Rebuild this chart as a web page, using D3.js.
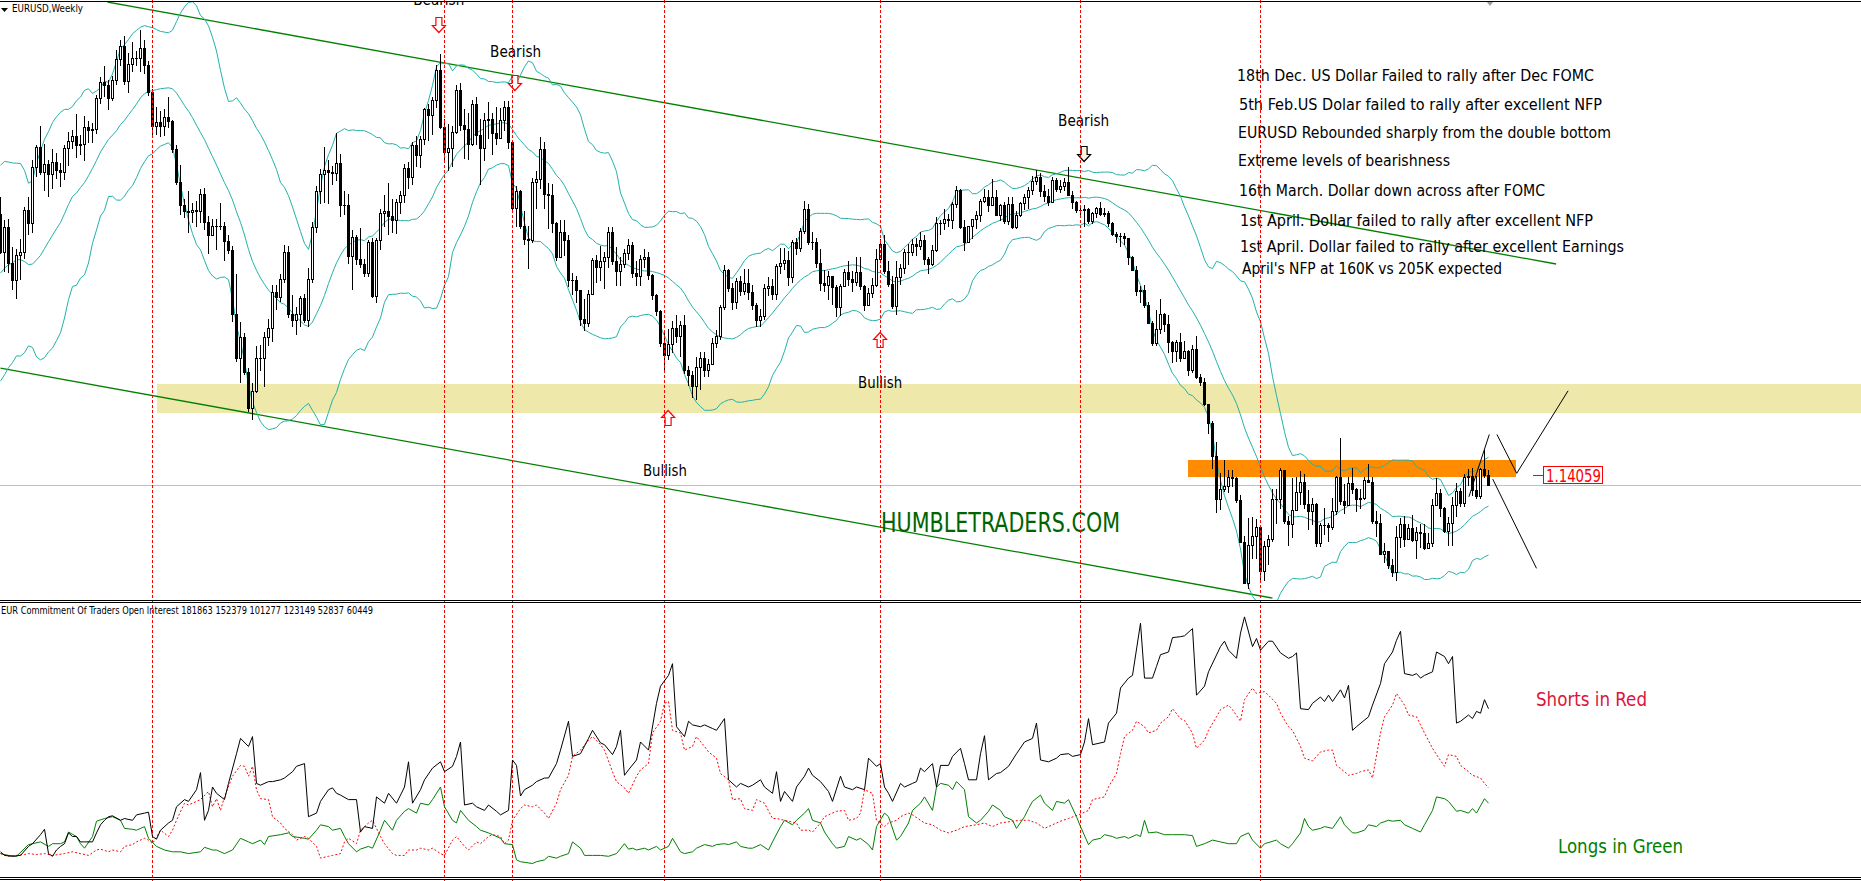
<!DOCTYPE html>
<html><head><meta charset="utf-8">
<script src="https://cdn.jsdelivr.net/npm/d3@7"></script>
<style>
html,body{margin:0;padding:0;background:#fff;overflow:hidden}
svg{display:block}
text{font-family:"DejaVu Sans Condensed","DejaVu Sans",sans-serif}
</style></head><body>
<svg id="chart" width="1861" height="881"></svg>
<script>
// ---------------- DATA ----------------
// EURUSD weekly bars, week 0 = week ending 27 Mar 2009, week 372 = current week (May 2016)
const firstOpen = 1.3595;
// closes of the 19 weeks before week 0 (only used to seed the 20-period Bollinger Bands)
const priorCloses = [1.2650,1.2620,1.2695,1.2710,1.3315,1.3925,1.4030,1.3920,1.3460,1.3200,
  1.2855,1.2800,1.2940,1.2870,1.2915,1.2670,1.2655,1.2915,1.3595];
const weeklyClose = [
1.3280,1.3485,1.3185,1.3040,1.3250,1.3280,1.3630,1.3520,1.3995,1.4165,
1.3955,1.4020,1.3930,1.4035,1.3965,1.3955,1.4155,1.4210,1.4255,1.4180,
1.4190,1.4330,1.4305,1.4310,1.4570,1.4710,1.4680,1.4575,1.4720,1.4900,
1.5010,1.4715,1.4860,1.4910,1.4905,1.4990,1.4850,1.4620,1.4340,1.4375,
1.4335,1.4410,1.4380,1.4140,1.3865,1.3675,1.3625,1.3615,1.3630,1.3625,
1.3770,1.3530,1.3420,1.3500,1.3500,1.3495,1.3375,1.3295,1.2755,1.2390,
1.2565,1.2270,1.1965,1.2110,1.2385,1.2385,1.2565,1.2640,1.2940,1.2900,
1.3055,1.3280,1.2755,1.2705,1.2760,1.2890,1.2710,1.3050,1.3490,1.3790,
1.3935,1.3970,1.3955,1.3940,1.4030,1.3675,1.3670,1.3245,1.3405,1.3220,
1.3180,1.3100,1.3365,1.2910,1.3380,1.3610,1.3620,1.3580,1.3545,1.3695,
1.3755,1.3985,1.3905,1.4180,1.4095,1.4230,1.4480,1.4430,1.4560,1.4810,
1.4330,1.4120,1.4150,1.4285,1.4640,1.4345,1.4310,1.4190,1.4525,1.4260,
1.4150,1.4385,1.4395,1.4280,1.4235,1.4390,1.4495,1.4205,1.3650,1.3795,
1.3500,1.3390,1.3380,1.3870,1.3895,1.4145,1.3770,1.3760,1.3520,1.3235,
1.3445,1.3380,1.3045,1.3045,1.2960,1.2720,1.2680,1.2930,1.3215,1.3155,
1.3200,1.3240,1.3450,1.3200,1.3120,1.3180,1.3270,1.3340,1.3100,1.3075,
1.3220,1.3235,1.3085,1.2915,1.2780,1.2515,1.2415,1.2505,1.2640,1.2570,
1.2665,1.2290,1.2245,1.2155,1.2315,1.2390,1.2290,1.2335,1.2515,1.2575,
1.2815,1.3125,1.2980,1.2860,1.3035,1.2955,1.3020,1.2940,1.2830,1.2710,
1.2740,1.2975,1.2990,1.2925,1.3165,1.3190,1.3215,1.3067,1.3364,1.3316,
1.3456,1.3641,1.3364,1.3363,1.3189,1.3020,1.3005,1.3077,1.2987,1.2819,
1.2993,1.3111,1.3052,1.3028,1.3113,1.2995,1.2837,1.2933,1.2999,1.3220,
1.3343,1.3121,1.3010,1.2828,1.3066,1.3144,1.3278,1.3280,1.3344,1.3331,
1.3381,1.3220,1.3176,1.3294,1.3524,1.3523,1.3555,1.3547,1.3683,1.3803,
1.3487,1.3363,1.3497,1.3555,1.3592,1.3706,1.3742,1.3675,1.3739,1.3590,
1.3670,1.3540,1.3680,1.3485,1.3590,1.3690,1.3740,1.3800,1.3875,1.3910,
1.3790,1.3750,1.3700,1.3885,1.3810,1.3830,1.3870,1.3760,1.3695,1.3630,
1.3635,1.3640,1.3540,1.3605,1.3645,1.3595,1.3605,1.3525,1.3430,1.3415,
1.3410,1.3400,1.3240,1.3130,1.2950,1.2960,1.2830,1.2685,1.2515,1.2630,
1.2760,1.2670,1.2525,1.2450,1.2525,1.2390,1.2450,1.2290,1.2465,1.2225,
1.2185,1.2000,1.1840,1.1565,1.1205,1.1290,1.1315,1.1390,1.1380,1.1195,
1.0845,1.0495,1.0820,1.0890,1.0970,1.0600,1.0810,1.0870,1.1200,1.1200,
1.1445,1.1015,1.0990,1.1115,1.1260,1.1350,1.1165,1.1105,1.1160,1.0830,
1.0985,1.0985,1.0970,1.1105,1.1385,1.1185,1.1150,1.1340,1.1290,1.1200,
1.1210,1.1360,1.1350,1.1015,1.1005,1.0740,1.0770,1.0650,1.0590,1.0885,
1.0990,1.0865,1.0960,1.0860,1.0925,1.0915,1.0795,1.0830,1.1155,1.1255,
1.1130,1.0935,1.1005,1.1155,1.1270,1.1170,1.1390,1.1400,1.1280,1.1225,
1.1455,1.1405,1.1320];
const weeklyHigh = [
1.3740,1.3550,1.3560,1.3320,1.3300,1.3390,1.3660,1.3740,1.4050,1.4175,
1.4340,1.4190,1.4050,1.4140,1.4110,1.4030,1.4180,1.4290,1.4300,1.4440,
1.4260,1.4420,1.4380,1.4360,1.4600,1.4750,1.4845,1.4720,1.4760,1.4980,
1.5060,1.5090,1.4950,1.5040,1.4970,1.5144,1.5060,1.4880,1.4650,1.4495,
1.4460,1.4480,1.4580,1.4390,1.4180,1.4010,1.3720,1.3790,1.3690,1.3710,
1.3810,1.3820,1.3580,1.3560,1.3560,1.3690,1.3530,1.3420,1.3330,1.3095,
1.2690,1.2600,1.2300,1.2180,1.2485,1.2500,1.2610,1.2720,1.3000,1.3000,
1.3095,1.3335,1.3330,1.2920,1.2820,1.2905,1.2930,1.3145,1.3530,1.3830,
1.3980,1.4160,1.4050,1.4000,1.4280,1.4100,1.3790,1.3770,1.3465,1.3420,
1.3480,1.3220,1.3380,1.3400,1.3400,1.3640,1.3760,1.3860,1.3720,1.3720,
1.3790,1.4015,1.4035,1.4200,1.4250,1.4250,1.4490,1.4520,1.4580,1.4850,
1.4940,1.4400,1.4350,1.4335,1.4680,1.4700,1.4480,1.4450,1.4560,1.4580,
1.4400,1.4450,1.4540,1.4450,1.4500,1.4490,1.4550,1.4550,1.4190,1.3830,
1.3800,1.3620,1.3500,1.3900,1.3960,1.4247,1.4200,1.3860,1.3850,1.3530,
1.3550,1.3550,1.3420,1.3100,1.3080,1.2960,1.2880,1.2960,1.3230,1.3250,
1.3330,1.3280,1.3486,1.3490,1.3320,1.3240,1.3300,1.3385,1.3360,1.3200,
1.3250,1.3300,1.3280,1.3090,1.2930,1.2790,1.2620,1.2630,1.2700,1.2747,
1.2700,1.2750,1.2320,1.2280,1.2400,1.2440,1.2440,1.2380,1.2560,1.2620,
1.2830,1.3170,1.3140,1.3020,1.3060,1.3080,1.3140,1.3140,1.3000,1.2850,
1.2800,1.3010,1.3070,1.3050,1.3180,1.3310,1.3310,1.3290,1.3380,1.3400,
1.3480,1.3711,1.3680,1.3450,1.3400,1.3300,1.3130,1.3120,1.3080,1.3000,
1.3010,1.3140,1.3200,1.3120,1.3240,1.3240,1.3000,1.2980,1.3060,1.3305,
1.3390,1.3420,1.3200,1.3080,1.3200,1.3180,1.3300,1.3345,1.3390,1.3400,
1.3450,1.3420,1.3240,1.3340,1.3570,1.3550,1.3640,1.3600,1.3700,1.3832,
1.3810,1.3550,1.3500,1.3560,1.3620,1.3720,1.3810,1.3800,1.3893,1.3800,
1.3680,1.3700,1.3740,1.3740,1.3620,1.3700,1.3770,1.3825,1.3915,1.3967,
1.3940,1.3840,1.3810,1.3905,1.3900,1.3880,1.3900,1.3993,1.3790,1.3710,
1.3670,1.3670,1.3650,1.3615,1.3660,1.3700,1.3650,1.3620,1.3530,1.3445,
1.3435,1.3440,1.3400,1.3245,1.3160,1.2990,1.3000,1.2860,1.2700,1.2790,
1.2887,1.2770,1.2750,1.2530,1.2540,1.2600,1.2530,1.2456,1.2500,1.2570,
1.2250,1.2220,1.1970,1.1860,1.1680,1.1420,1.1535,1.1445,1.1450,1.1390,
1.1240,1.0890,1.1043,1.1052,1.1035,1.0980,1.0850,1.0900,1.1290,1.1290,
1.1467,1.1450,1.1060,1.1380,1.1385,1.1435,1.1410,1.1280,1.1215,1.1170,
1.1000,1.1130,1.1000,1.1215,1.1395,1.1715,1.1330,1.1390,1.1460,1.1300,
1.1290,1.1390,1.1495,1.1390,1.1100,1.1075,1.0830,1.0770,1.0700,1.0980,
1.1045,1.1060,1.0990,1.1065,1.0970,1.0990,1.0990,1.0920,1.1200,1.1376,
1.1290,1.1140,1.1055,1.1220,1.1340,1.1295,1.1410,1.1455,1.1465,1.1400,
1.1460,1.1616,1.1445];
const weeklyLow = [
1.3270,1.3115,1.3110,1.2970,1.2890,1.3050,1.3230,1.3430,1.3450,1.3920,
1.3930,1.3800,1.3750,1.3820,1.3900,1.3830,1.3890,1.4010,1.4150,1.4080,
1.4100,1.4050,1.4200,1.4200,1.4280,1.4530,1.4590,1.4480,1.4560,1.4690,
1.4850,1.4690,1.4620,1.4800,1.4850,1.4800,1.4780,1.4600,1.4255,1.4270,
1.4255,1.4260,1.4330,1.4120,1.3850,1.3600,1.3570,1.3445,1.3530,1.3500,
1.3530,1.3470,1.3270,1.3420,1.3300,1.3470,1.3210,1.3270,1.2700,1.2360,
1.2185,1.2250,1.1940,1.1876,1.2100,1.2290,1.2150,1.2500,1.2530,1.2800,
1.2870,1.3030,1.2730,1.2660,1.2590,1.2660,1.2690,1.2660,1.3030,1.3450,
1.3690,1.3700,1.3690,1.3850,1.3880,1.3580,1.3600,1.3190,1.2970,1.3180,
1.3150,1.3080,1.3080,1.2900,1.2860,1.3300,1.3500,1.3430,1.3450,1.3440,
1.3610,1.3700,1.3820,1.3850,1.4000,1.3990,1.4190,1.4220,1.4270,1.4500,
1.4320,1.4060,1.3970,1.4000,1.4280,1.4300,1.4070,1.4060,1.4180,1.4190,
1.3850,1.4050,1.4240,1.4100,1.4190,1.4290,1.4300,1.4150,1.3620,1.3495,
1.3480,1.3350,1.3145,1.3360,1.3650,1.3820,1.3650,1.3480,1.3450,1.3210,
1.3260,1.3250,1.2990,1.2930,1.2860,1.2665,1.2624,1.2660,1.2950,1.3030,
1.3040,1.2975,1.3150,1.3180,1.3000,1.3000,1.3150,1.3220,1.3070,1.3000,
1.3000,1.3150,1.3050,1.2880,1.2750,1.2490,1.2288,1.2380,1.2440,1.2520,
1.2405,1.2260,1.2160,1.2060,1.2042,1.2130,1.2240,1.2240,1.2340,1.2480,
1.2550,1.2800,1.2950,1.2800,1.2810,1.2920,1.2930,1.2880,1.2800,1.2660,
1.2660,1.2720,1.2920,1.2880,1.2880,1.3100,1.3140,1.3000,1.3030,1.3260,
1.3290,1.3440,1.3350,1.3300,1.3150,1.2960,1.2955,1.2880,1.2840,1.2745,
1.2750,1.2990,1.3000,1.2950,1.3000,1.2970,1.2795,1.2830,1.2900,1.2990,
1.3200,1.3100,1.2990,1.2810,1.2755,1.3010,1.3100,1.3180,1.3250,1.3250,
1.3300,1.3180,1.3100,1.3170,1.3290,1.3430,1.3470,1.3500,1.3480,1.3660,
1.3480,1.3295,1.3360,1.3400,1.3480,1.3540,1.3700,1.3625,1.3670,1.3590,
1.3550,1.3520,1.3510,1.3480,1.3480,1.3580,1.3640,1.3650,1.3770,1.3850,
1.3750,1.3710,1.3670,1.3700,1.3790,1.3780,1.3800,1.3760,1.3650,1.3615,
1.3585,1.3500,1.3520,1.3525,1.3570,1.3590,1.3580,1.3500,1.3420,1.3366,
1.3333,1.3350,1.3180,1.3130,1.2920,1.2860,1.2815,1.2680,1.2500,1.2500,
1.2600,1.2615,1.2440,1.2358,1.2360,1.2360,1.2390,1.2245,1.2270,1.2220,
1.2165,1.1995,1.1755,1.1460,1.1098,1.1120,1.1270,1.1260,1.1315,1.1175,
1.0840,1.0495,1.0458,1.0710,1.0712,1.0520,1.0520,1.0660,1.0850,1.1000,
1.1130,1.1000,1.0818,1.0885,1.1110,1.1160,1.1130,1.0955,1.0990,1.0810,
1.0810,1.0910,1.0850,1.0950,1.1075,1.1165,1.1085,1.1150,1.1250,1.1105,
1.1130,1.1200,1.1350,1.1000,1.0895,1.0740,1.0675,1.0620,1.0560,1.0525,
1.0800,1.0805,1.0870,1.0850,1.0710,1.0800,1.0780,1.0800,1.0810,1.1155,
1.1060,1.0930,1.0820,1.0820,1.1060,1.1145,1.1145,1.1325,1.1235,1.1215,
1.1215,1.1390,1.1320];

// Commitment of Traders sub-window: [week, thousand contracts]
const cotTotal = [[0,28],[1,24],[3,23],[5,24],[7,34],[8,37],[10,47],[11,53],[12,26],[13,23],[14,30],[15,34],[16,37],[17,49],[18,45],[19,45],[20,39],[21,39],[23,39],[24,49],[25,58],[26,63],[27,67],[28,68],[30,63],[31,65],[33,63],[34,69],[36,71],[37,72],[38,45],[39,42],[40,52],[42,60],[43,63],[44,78],[46,86],[47,84],[49,97],[50,116],[51,63],[52,74],[53,100],[54,93],[56,86],[57,104],[59,137],[60,154],[62,145],[63,156],[64,104],[65,102],[67,106],[68,106],[70,108],[71,110],[73,117],[74,123],[76,126],[77,67],[79,71],[80,84],[82,97],[83,99],[84,93],[85,91],[87,86],[89,86],[90,50],[91,56],[93,54],[94,89],[96,82],[97,93],[99,82],[100,91],[101,100],[102,128],[103,82],[105,97],[106,108],[108,121],[110,128],[111,117],[113,123],[114,134],[115,150],[116,80],[118,82],[119,78],[121,74],[122,80],[124,73],[125,69],[127,74],[128,130],[129,124],[130,90],[131,97],[133,102],[134,106],[136,110],[137,110],[139,126],[140,141],[142,173],[143,134],[145,137],[147,154],[148,163],[150,149],[151,147],[153,136],[154,145],[155,163],[156,113],[157,119],[159,130],[160,150],[162,141],[164,193],[165,212],[167,224],[168,237],[169,167],[171,156],[172,173],[173,169],[175,167],[176,169],[178,165],[179,163],[181,176],[182,108],[184,100],[185,104],[187,100],[188,102],[190,108],[191,100],[193,93],[194,117],[195,84],[196,95],[198,84],[199,100],[201,112],[202,121],[203,113],[205,106],[207,95],[208,84],[210,112],[211,100],[213,97],[214,100],[216,97],[217,132],[219,123],[220,126],[221,100],[222,93],[223,84],[225,104],[226,100],[228,104],[229,106],[230,121],[231,117],[233,126],[234,100],[235,124],[237,124],[238,134],[240,143],[241,126],[242,108],[244,108],[245,137],[246,157],[247,108],[249,115],[250,116],[252,123],[254,137],[256,150],[258,154],[259,171],[260,130],[262,128],[264,132],[265,136],[267,137],[268,134],[270,136],[271,150],[272,176],[273,147],[276,150],[277,171],[279,182],[280,210],[282,221],[283,224],[285,282],[286,221],[288,221],[289,234],[290,247],[292,250],[293,266],[295,267],[296,268],[298,276],[299,202],[301,212],[302,228],[305,256],[306,262],[307,252],[309,243],[310,271],[311,289],[313,256],[314,265],[315,252],[317,262],[318,262],[320,249],[322,243],[323,245],[324,249],[325,187],[327,186],[328,193],[330,200],[331,195],[332,202],[333,195],[335,208],[336,199],[337,213],[338,163],[339,167],[342,178],[343,191],[345,215],[346,237],[348,250],[349,263],[350,273],[351,226],[353,224],[354,226],[355,221],[356,224],[358,228],[359,250],[361,245],[362,237],[363,245],[364,171],[365,173],[367,180],[368,176],[369,184],[370,182],[371,197],[372,187]];
const cotShorts = [[0,26],[2,23],[4,24],[6,25],[7,26],[9,25],[11,26],[13,24],[16,26],[18,28],[20,26],[22,24],[24,30],[25,31],[27,28],[28,30],[30,28],[31,34],[33,36],[34,39],[36,43],[37,41],[38,37],[40,52],[42,45],[43,52],[44,63],[46,82],[47,80],[49,84],[50,86],[52,95],[53,78],[54,87],[55,74],[56,89],[58,112],[60,124],[61,123],[62,112],[63,123],[64,97],[65,87],[67,86],[68,67],[70,60],[71,54],[73,47],[74,41],[76,45],[77,43],[79,34],[80,21],[82,23],[83,24],[85,26],[86,39],[87,43],[89,37],[90,52],[92,60],[93,63],[95,45],[96,37],[98,26],[99,24],[101,24],[102,30],[104,30],[105,32],[107,30],[108,32],[110,26],[111,24],[113,41],[114,45],[116,34],[117,30],[119,39],[120,37],[122,45],[123,47],[125,45],[126,37],[127,41],[128,63],[130,76],[131,80],[133,78],[134,80],[136,71],[137,65],[139,82],[140,97],[142,113],[143,134],[145,141],[147,152],[148,156],[150,147],[151,141],[153,117],[154,106],[156,99],[157,93],[159,112],[160,119],[162,126],[163,160],[165,173],[166,193],[167,195],[168,163],[170,160],[171,141],[173,145],[174,156],[176,145],[177,139],[179,132],[180,115],[182,108],[183,86],[185,87],[186,76],[188,74],[189,86],[191,82],[193,65],[194,65],[196,63],[197,62],[199,60],[200,52],[202,52],[203,50],[205,60],[206,67],[208,71],[209,73],[211,74],[212,63],[214,65],[215,71],[216,97],[218,93],[219,63],[221,56],[222,60],[224,63],[225,67],[227,71],[228,69],[230,63],[231,60],[233,58],[235,52],[237,49],[239,52],[241,56],[244,58],[246,60],[248,56],[250,60],[253,62],[255,63],[257,63],[259,60],[261,54],[262,56],[264,60],[265,62],[267,65],[270,70],[272,74],[273,86],[276,89],[277,100],[279,115],[280,137],[281,156],[283,163],[284,173],[286,167],[287,160],[289,163],[290,171],[292,178],[293,187],[295,176],[296,174],[298,160],[299,143],[301,152],[302,163],[304,178],[305,186],[307,191],[308,186],[310,173],[311,197],[313,210],[314,204],[316,206],[317,202],[319,193],[320,182],[322,167],[323,163],[325,145],[326,132],[328,129],[329,134],[330,139],[332,141],[333,141],[334,124],[336,117],[337,113],[339,115],[340,117],[342,119],[343,110],[345,160],[346,178],[348,191],[349,204],[351,191],[352,180],[354,178],[355,169],[356,160],[358,143],[359,136],[361,123],[362,136],[364,134],[365,124],[367,117],[368,113],[370,110],[371,104],[372,99]];
const cotLongs = [[0,26],[2,24],[4,23],[7,36],[8,37],[10,39],[12,34],[13,37],[15,37],[16,39],[17,50],[19,45],[20,37],[21,32],[23,45],[24,62],[26,65],[28,67],[30,63],[31,54],[33,53],[34,52],[36,56],[37,43],[39,34],[41,30],[43,28],[45,28],[47,26],[50,28],[51,33],[53,30],[54,30],[56,26],[58,30],[60,43],[62,39],[63,37],[65,41],[66,36],[67,45],[70,47],[72,49],[73,45],[76,43],[77,42],[79,52],[80,58],[82,56],[83,52],[85,54],[86,45],[87,37],[89,28],[90,31],[92,34],[93,32],[95,52],[96,63],[98,52],[99,63],[101,73],[102,76],[104,71],[105,82],[107,80],[108,86],[110,100],[111,78],[113,63],[114,60],[115,74],[117,63],[119,56],[120,52],[122,49],[123,47],[125,43],[126,37],[128,36],[129,19],[130,17],[133,15],[134,17],[136,19],[137,23],[139,21],[140,23],[142,26],[143,39],[145,32],[146,24],[148,24],[150,24],[152,23],[154,26],[156,37],[157,31],[158,32],[159,30],[161,32],[162,30],[164,34],[165,30],[167,34],[168,43],[170,28],[171,26],[173,28],[174,32],[176,36],[178,34],[179,36],[181,37],[182,36],[184,39],[185,34],[187,32],[188,32],[190,36],[192,30],[193,39],[195,56],[196,63],[198,58],[199,63],[201,71],[202,76],[203,63],[205,60],[206,50],[208,37],[209,32],[211,34],[212,45],[214,41],[215,43],[217,36],[218,30],[219,56],[221,71],[222,67],[224,41],[225,45],[227,60],[228,74],[230,82],[231,89],[233,74],[234,100],[235,104],[237,102],[238,97],[239,106],[241,97],[242,67],[244,60],[245,63],[247,73],[248,80],[250,74],[251,67],[253,63],[254,54],[256,67],[257,76],[258,84],[260,91],[261,82],[263,74],[264,84],[266,82],[267,86],[269,67],[270,56],[272,36],[273,41],[275,43],[276,47],[278,45],[279,43],[281,45],[282,43],[284,47],[285,45],[286,63],[287,49],[289,50],[291,47],[293,47],[296,47],[298,46],[299,34],[301,37],[303,41],[305,39],[307,37],[309,37],[310,45],[312,49],[313,41],[315,32],[316,37],[319,41],[320,37],[322,32],[323,37],[325,49],[326,65],[327,56],[328,52],[330,54],[331,56],[333,54],[335,67],[336,58],[338,49],[339,49],[341,52],[342,58],[344,56],[345,60],[347,63],[348,62],[350,63],[351,58],[353,54],[355,50],[356,58],[358,74],[359,89],[361,87],[362,84],[364,73],[365,74],[367,71],[368,76],[369,71],[371,87],[372,82]];
const cotTitle = "EUR Commitment Of Traders Open Interest 181863 152379 101277 123149 52837 60449";

// chart objects (time in weeks, price)
const eventWeeks = [38, 111, 128, 166, 220, 270, 315];
const channelUpper = [[26.75, 1.5379], [388.9, 1.3178]];
const channelLower = [[0, 1.2304], [318, 1.0371]];
const supportZone = {fromWeek: 39, low: 1.1925, high: 1.2170};
const resistanceZone = {fromWeek: 296.9, toWeek: 378.9, low: 1.1387, high: 1.1530};
const priceLabel = 1.14059;
const projection = [
  [[367.1, 1.1222], [372.2, 1.1746]],
  [[374.1, 1.1746], [379.05, 1.1419], [391.9, 1.2113]],
  [[373.05, 1.1371], [384.0, 1.0621]]
];
const arrows = [
  {week: 109.6, price: 1.5253, dir: "down", color: "#ff0000"},
  {week: 128.6, price: 1.4766, dir: "down", color: "#ff0000"},
  {week: 270.9, price: 1.4169, dir: "down", color: "#000000"},
  {week: 166.9, price: 1.1951, dir: "up", color: "#ff0000"},
  {week: 219.9, price: 1.2606, dir: "up", color: "#ff0000"}
];
const tags = [
  {text: "Bearish", week: 103.2, price: 1.5358},
  {text: "Bearish", week: 122.4, price: 1.4917},
  {text: "Bearish", week: 264.4, price: 1.4337},
  {text: "Bullish", week: 214.4, price: 1.2135},
  {text: "Bullish", week: 160.6, price: 1.1396}
];
const notes = [
  "18th Dec. US Dollar Failed to rally after Dec FOMC",
  "5th Feb.US Dolar failed to rally after excellent NFP",
  "EURUSD Rebounded sharply from the double bottom",
  "Extreme levels of bearishness",
  "16th March. Dollar down across after FOMC",
  "1st April. Dollar failed to rally after excellent NFP",
  "1st April. Dollar failed to rally after excellent Earnings",
  "April's NFP at 160K vs 205K expected"
];

// ---------------- LAYOUT ----------------
const W = 1861, H = 881;
const svg = d3.select("#chart");
const x = d3.scaleLinear().domain([0, 372]).range([0.5, 1488.5]);
const y = d3.scaleLinear().domain([1.0355, 1.5396]).range([600, 0]);
const yc = d3.scaleLinear().domain([0, 300]).range([877, 607]);
const snap = v => Math.round(v - 0.5) + 0.5;

const defs = svg.append("defs");
defs.append("clipPath").attr("id", "clipMain").append("rect").attr("x", 0).attr("y", 2).attr("width", W).attr("height", 598);
defs.append("clipPath").attr("id", "clipCot").append("rect").attr("x", 0).attr("y", 603).attr("width", W).attr("height", 274);

const main = svg.append("g").attr("clip-path", "url(#clipMain)");

// background zones
main.append("rect").attr("x", Math.round(x(supportZone.fromWeek))).attr("y", Math.round(y(supportZone.high)))
  .attr("width", W - Math.round(x(supportZone.fromWeek))).attr("height", Math.round(y(supportZone.low)) - Math.round(y(supportZone.high)))
  .attr("fill", "#eee8aa");
main.append("rect").attr("x", Math.round(x(resistanceZone.fromWeek))).attr("y", Math.round(y(resistanceZone.high)))
  .attr("width", Math.round(x(resistanceZone.toWeek)) - Math.round(x(resistanceZone.fromWeek)))
  .attr("height", Math.round(y(resistanceZone.low)) - Math.round(y(resistanceZone.high)))
  .attr("fill", "#ff8c00");

// bid line
const lastClose = weeklyClose[weeklyClose.length - 1];
main.append("line").attr("x1", 0).attr("x2", W).attr("y1", snap(y(lastClose))).attr("y2", snap(y(lastClose)))
  .attr("stroke", "#c0c0c0").attr("stroke-width", 1);

// channel lines
[channelUpper, channelLower].forEach(c => {
  main.append("line").attr("x1", x(c[0][0])).attr("y1", y(c[0][1])).attr("x2", x(c[1][0])).attr("y2", y(c[1][1]))
    .attr("stroke", "#008000").attr("stroke-width", 1.3);
});

// Bollinger bands (20, 2) from closes
const allCloses = priorCloses.concat(weeklyClose);
const bands = weeklyClose.map((c, i) => {
  const win = allCloses.slice(i, i + 20);
  const m = d3.mean(win);
  const sd = Math.sqrt(d3.mean(win, v => (v - m) * (v - m)));
  return {i, mid: m, up: m + 2 * sd, lo: m - 2 * sd};
});
["up", "mid", "lo"].forEach(k => {
  main.append("path").datum(bands)
    .attr("d", d3.line().x(d => x(d.i)).y(d => y(d[k])))
    .attr("fill", "none").attr("stroke", "#20b2aa").attr("stroke-width", 1);
});

// candles
const opens = weeklyClose.map((c, i) => i === 0 ? firstOpen : weeklyClose[i - 1]);
const cg = main.append("g").attr("shape-rendering", "crispEdges");
weeklyClose.forEach((c, i) => {
  const o = opens[i];
  const hi = Math.max(weeklyHigh[i], o, c), lo = Math.min(weeklyLow[i], o, c);
  const cx = x(i);
  cg.append("line").attr("x1", cx).attr("x2", cx).attr("y1", Math.round(y(hi))).attr("y2", Math.round(y(lo)) + 1)
    .attr("stroke", "#000").attr("stroke-width", 1);
  const yo = Math.round(y(o)), ycl = Math.round(y(c));
  if (c < o) {
    cg.append("rect").attr("x", cx - 1.5).attr("y", yo).attr("width", 3).attr("height", Math.max(1, ycl - yo + 1)).attr("fill", "#000");
  } else if (c > o) {
    const h = yo - ycl;
    if (h >= 2) {
      cg.append("rect").attr("x", cx - 1).attr("y", ycl + 0.5).attr("width", 2).attr("height", h)
        .attr("fill", "#fff").attr("stroke", "#000").attr("stroke-width", 1);
    } else {
      cg.append("rect").attr("x", cx - 1.5).attr("y", ycl).attr("width", 3).attr("height", h + 1).attr("fill", "#000");
    }
  } else {
    cg.append("rect").attr("x", cx - 1.5).attr("y", yo).attr("width", 3).attr("height", 1).attr("fill", "#000");
  }
});

// projected zig-zag
projection.forEach(seg => {
  main.append("path").datum(seg).attr("d", d3.line().x(d => x(d[0])).y(d => y(d[1])))
    .attr("fill", "none").attr("stroke", "#000").attr("stroke-width", 1);
});

// arrows
arrows.forEach(a => {
  const cx = x(a.week), t = Math.round(y(a.price)) + 0.5;
  let p;
  if (a.dir === "down") {
    p = `M${cx-3},${t}L${cx+3},${t}L${cx+3},${t+8}L${cx+6.5},${t+8}L${cx},${t+15}L${cx-6.5},${t+8}L${cx-3},${t+8}Z`;
  } else {
    p = `M${cx},${t}L${cx+6.5},${t+7}L${cx+3},${t+7}L${cx+3},${t+15}L${cx-3},${t+15}L${cx-3},${t+7}L${cx-6.5},${t+7}Z`;
  }
  main.append("path").attr("d", p).attr("fill", a.color === "#000000" ? "#fff4e0" : "#fff")
    .attr("stroke", a.color).attr("stroke-width", 1.2);
});

// tags
tags.forEach(t => {
  main.append("text").attr("x", x(t.week)).attr("y", y(t.price)).text(t.text)
    .attr("font-size", 16).attr("fill", "#000")
    .attr("textLength", t.text === "Bearish" ? 51 : 44).attr("lengthAdjust", "spacingAndGlyphs");
});

// price label
const ply = Math.round(y(priceLabel));
svg.append("line").attr("x1", 1533).attr("x2", 1543).attr("y1", ply + 0.5).attr("y2", ply + 0.5).attr("stroke", "#ff0000");
svg.append("rect").attr("x", 1543.5).attr("y", ply - 8.5).attr("width", 59).attr("height", 17)
  .attr("fill", "#fff").attr("stroke", "#ff0000").attr("stroke-width", 1);
svg.append("text").attr("x", 1546).attr("y", ply + 6.5).text(priceLabel.toFixed(5))
  .attr("font-size", 18).attr("fill", "#ff0000").attr("textLength", 55).attr("lengthAdjust", "spacingAndGlyphs");

// notes (screen-anchored labels)
const noteLayout = [[1237, 81, 357], [1239, 110, 363], [1238, 138, 373], [1238, 166, 212], [1239, 196, 306], [1240, 226, 353], [1240, 252, 384], [1242, 274, 260]];
notes.forEach((n, k) => {
  const L = noteLayout[k];
  svg.append("text").attr("x", L[0]).attr("y", L[1]).text(n).attr("font-size", 15).attr("fill", "#000")
    .attr("textLength", L[2]).attr("lengthAdjust", "spacingAndGlyphs");
});

// watermark
svg.append("text").attr("x", 881).attr("y", 532).text("HUMBLETRADERS.COM").attr("font-size", 26)
  .attr("fill", "#006400").attr("textLength", 239).attr("lengthAdjust", "spacingAndGlyphs");

// symbol label
svg.append("path").attr("d", "M1,8L8,8L4.5,12Z").attr("fill", "#000");
svg.append("text").attr("x", 12).attr("y", 12).text("EURUSD,Weekly").attr("font-size", 10.5).attr("fill", "#000")
  .attr("textLength", 71).attr("lengthAdjust", "spacingAndGlyphs");
svg.append("path").attr("d", "M1486,1L1494,1L1490,6Z").attr("fill", "#a0a0a0");

// vertical event lines
eventWeeks.forEach(w => {
  svg.append("line").attr("x1", x(w)).attr("x2", x(w)).attr("y1", 0).attr("y2", H)
    .attr("stroke", "#ff0000").attr("stroke-width", 1).attr("stroke-dasharray", "3,2");
});

// COT sub-window
const cot = svg.append("g").attr("clip-path", "url(#clipCot)");
const cl = d3.line().x(d => x(d[0])).y(d => yc(d[1]));
cot.append("path").datum(cotLongs).attr("d", cl).attr("fill", "none").attr("stroke", "#008000").attr("stroke-width", 1);
cot.append("path").datum(cotShorts).attr("d", cl).attr("fill", "none").attr("stroke", "#ff0000").attr("stroke-width", 1).attr("stroke-dasharray", "2,2");
cot.append("path").datum(cotTotal).attr("d", cl).attr("fill", "none").attr("stroke", "#000").attr("stroke-width", 1);
svg.append("text").attr("x", 1).attr("y", 614).text(cotTitle).attr("font-size", 10).attr("fill", "#000")
  .attr("textLength", 372).attr("lengthAdjust", "spacingAndGlyphs");
svg.append("text").attr("x", 1536).attr("y", 706).text("Shorts in Red").attr("font-size", 20).attr("fill", "#dc143c")
  .attr("textLength", 111).attr("lengthAdjust", "spacingAndGlyphs");
svg.append("text").attr("x", 1558).attr("y", 853).text("Longs in Green").attr("font-size", 20).attr("fill", "#008000")
  .attr("textLength", 125).attr("lengthAdjust", "spacingAndGlyphs");

// frame lines
[1, 600, 602, 877, 879].forEach(v => {
  svg.append("line").attr("x1", 0).attr("x2", W).attr("y1", v + 0.5).attr("y2", v + 0.5).attr("stroke", "#000").attr("stroke-width", 1);
});
</script>
</body></html>
